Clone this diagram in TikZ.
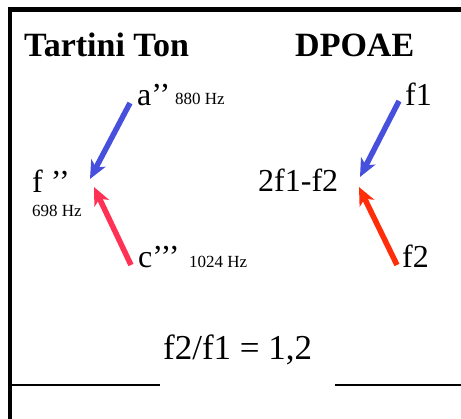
\documentclass[tikz,border=0pt]{standalone}
\usepackage{fontspec}
\setmainfont{Liberation Serif}
\usetikzlibrary{arrows.meta}

\definecolor{tonblue}{RGB}{70,80,220}
\definecolor{tonpink}{RGB}{255,50,85}
\definecolor{tonred}{RGB}{255,45,10}

\begin{document}
\begin{tikzpicture}[x=1pt,y=1pt,
    lbl/.style={anchor=base west,inner sep=0pt},
    head/.style={lbl,font=\fontsize{34}{38}\selectfont\bfseries},
    big/.style={lbl,font=\fontsize{32}{36}\selectfont},
    hz/.style={lbl,font=\fontsize{17}{19}\selectfont},
    tone/.style={line width=5.5pt,-{Stealth[length=18pt,width=16pt,inset=5pt]}}]
  \useasboundingbox (0,0) rectangle (461,419);
  % frame
  \draw[line width=5pt] (8,409.5) -- (461,409.5);
  \draw[line width=4pt] (10,412) -- (10,0);
  \draw[line width=1.5pt] (10,34) -- (160,34);
  \draw[line width=1.5pt] (335,34) -- (461,34);
  % headings
  \node[head] (tartini) at (24,362) {Tartini Ton};
  \node[head] (dpoae) at (295,362) {DPOAE};
  % Tartini tones
  \node[big] (a2) at (137,313) {a’’};
  \node[hz] (hz880) at (175,314) {880 Hz};
  \node[big] (f2q) at (32,226) {f ’’};
  \node[hz] (hz698) at (32,202) {698 Hz};
  \node[big] (c3) at (138,151) {c’’’};
  \node[hz] (hz1024) at (189,151) {1024 Hz};
  % DPOAE
  \node[big] (fa) at (405,313) {f1};
  \node[big] (dp) at (258,227) {2f1-f2};
  \node[big] (fb) at (402,151) {f2};
  \node[big,font=\fontsize{35}{38}\selectfont] (ratio) at (163,59) {f2/f1 = 1,2};
  % arrows
  \coordinate (a2tail) at (130,316);
  \coordinate (f2tipA) at (90,240);
  \coordinate (c3tail) at (131,154);
  \coordinate (f2tipB) at (94,232);
  \coordinate (fatail) at (399,318);
  \coordinate (dptipA) at (360,242);
  \coordinate (fbtail) at (397,154);
  \coordinate (dptipB) at (359,232);
  \draw[tone,tonblue] (a2tail) -- (f2tipA);
  \draw[tone,tonpink] (c3tail) -- (f2tipB);
  \draw[tone,tonblue] (fatail) -- (dptipA);
  \draw[tone,tonred] (fbtail) -- (dptipB);
\end{tikzpicture}
\end{document}
